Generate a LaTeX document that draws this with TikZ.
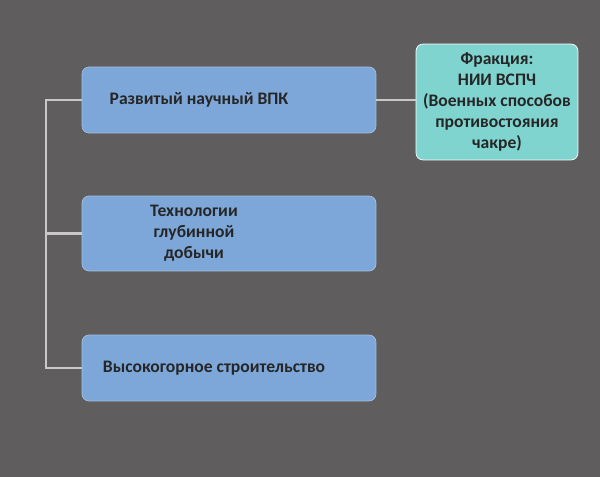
\documentclass[tikz,border=0pt]{standalone}
\usepackage{fontspec}
\setmainfont{Carlito}
\definecolor{bggray}{HTML}{5F5D5D}
\definecolor{boxblue}{HTML}{7DA7D8}
\definecolor{boxteal}{HTML}{80D4D0}
\definecolor{linegray}{HTML}{C8C8C8}
\begin{document}
\begin{tikzpicture}[x=0.02cm,y=-0.02cm]
\tikzset{
  every node/.style={font=\bfseries\fontsize{10}{12}\selectfont, text=black!85},
  branch/.style={draw=boxblue!70!white, fill=boxblue, rounded corners=4pt,
    minimum width=5.88cm, minimum height=1.32cm, align=center},
  faction/.style={draw=white, fill=boxteal, rounded corners=4pt,
    minimum width=3.24cm, minimum height=2.32cm, align=center},
  link/.style={draw=linegray, line width=1.2pt}
}
\fill [bggray] (0,0) rectangle (600,477);
\useasboundingbox (0,0) rectangle (600,477);
\node [branch] (vpk) at (229,100) {\hspace*{-1.2cm}Развитый научный ВПК};
\node [branch] (deep) at (229,233.5) {\hspace*{-1.4cm}\begin{tabular}{c}Технологии\\глубинной\\добычи\end{tabular}};
\node [branch] (high) at (229,368) {\hspace*{-0.6cm}Высокогорное строительство};
\node [faction] (nii) at (497,102) {Фракция:\\НИИ ВСПЧ\\(Военных способов\\противостояния\\чакре)};
\coordinate (top) at (46,100);
\coordinate (mid) at (46,233.5);
\coordinate (bot) at (46,368);
\draw [link] (vpk.west) -- (top) -- (bot) -- (high.west);
\draw [link] (mid) -- (deep.west);
\draw [link] (vpk.east) -- (nii.west |- vpk.east);
\end{tikzpicture}
\end{document}
